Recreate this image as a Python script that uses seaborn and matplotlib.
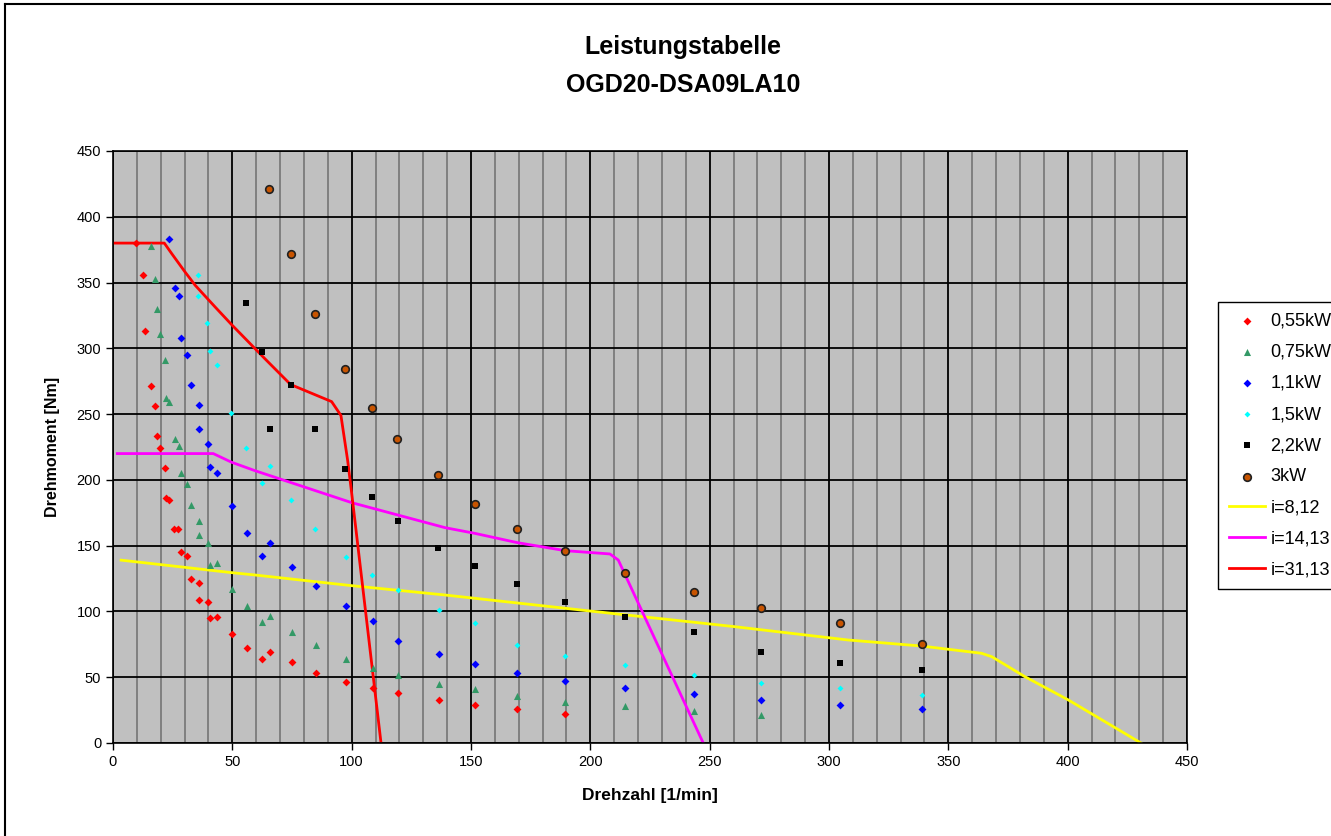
import matplotlib
matplotlib.use("Agg")
import matplotlib.pyplot as plt
import seaborn as sns
from matplotlib.lines import Line2D
from matplotlib.ticker import MultipleLocator

# --- data ---
x_055 = [9.5, 12.4, 13.4, 15.9, 17.5, 18.6, 19.7, 21.9, 22.3, 23.6, 25.7, 27.4, 28.6, 30.9, 32.5, 35.9, 35.9,
         39.8, 40.8, 43.7, 49.7, 56.0, 62.6, 65.9, 75.0, 84.9, 97.6, 108.8, 119.4, 136.7, 151.5, 169.4, 189.5]
y_055 = [380, 356, 313, 271, 256, 233, 224, 209, 186, 185, 163, 163, 145, 142, 125, 122, 109,
         107, 95, 96, 83, 72.5, 63.5, 69, 61.5, 53, 46, 42, 38, 33, 29, 26, 22]

x_075 = [15.8, 17.5, 18.6, 19.8, 21.9, 22.3, 23.6, 25.8, 27.5, 28.6, 30.9, 32.5, 35.9, 35.9, 39.8, 40.8, 43.7,
         49.7, 56.0, 62.6, 65.9, 75.0, 84.9, 97.6, 108.8, 119.4, 136.7, 151.5, 169.4, 189.5, 214.5, 243.4, 271.4]
y_075 = [378, 353, 330, 311, 291, 262, 259, 231, 226, 205, 197, 181, 169, 158, 152, 135, 137,
         117, 104, 92, 96.5, 84.5, 74.5, 64, 57, 51.5, 44.5, 41, 36, 31.5, 28, 24, 21]

x_11 = [23.6, 25.8, 27.5, 28.6, 30.9, 32.5, 35.9, 35.9, 39.8, 40.8, 43.7, 49.7, 56.0, 62.6, 65.9, 75.0, 84.9,
        97.6, 108.8, 119.4, 136.7, 151.5, 169.4, 189.5, 214.5, 243.4, 271.4, 304.7, 338.8]
y_11 = [383, 346, 340, 308, 295, 272, 257, 239, 227, 210, 205, 180, 160, 142, 152, 134, 119,
        104, 92.5, 77.5, 67.5, 60, 53, 47, 42, 37, 33, 29, 25.5]

x_15 = [35.6, 35.6, 39.5, 40.6, 43.4, 49.6, 55.7, 62.4, 65.8, 74.7, 84.6, 97.5, 108.6, 119.3, 136.5,
        151.5, 169.4, 189.5, 214.5, 243.4, 271.4, 304.7, 338.8]
y_15 = [355.5, 339.5, 319, 298, 287, 251, 224, 198, 210.5, 185, 163, 141.5, 127.5, 116.5, 101,
        91, 74.5, 66.5, 59, 51.5, 45.5, 41.5, 36.5]

x_22 = [55.9, 62.6, 65.8, 74.4, 84.5, 97.2, 108.6, 119.4, 136.3, 151.5, 169.4, 189.5, 214.5, 243.4,
        271.4, 304.7, 338.8]
y_22 = [334.5, 297.5, 239, 272, 239, 208, 187, 169, 148, 134.5, 120.5, 107.5, 95.5, 84.5, 69, 60.5, 55.5]

x_3 = [65.5, 74.4, 84.5, 97.3, 108.4, 119.1, 136.3, 151.5, 169.4, 189.5, 214.5, 243.4, 271.4, 304.7, 338.8]
y_3 = [421, 371.5, 326, 284.5, 255, 231, 203.5, 182, 163, 146, 129.5, 114.5, 102.5, 91.5, 75]

x_i812 = [3.4, 49.7, 59.5, 100, 139.1, 200, 260.6, 308, 338.8, 363.9, 368.2, 382.1, 400.3, 430.7]
y_i812 = [139, 129.5, 127.7, 119.6, 112.5, 100.3, 88.4, 78.3, 73.7, 68.2, 65.6, 50.4, 32.7, 0]

x_i1413 = [1.8, 42, 49.7, 59.5, 100, 139.1, 151.5, 169.4, 189.5, 208.2, 211.7, 247.3]
y_i1413 = [220, 220, 213.4, 207, 182.7, 163.7, 159.4, 152.3, 146.2, 143.7, 139.1, 0]

x_i3113 = [0.5, 21.5, 24.6, 30.2, 34.4, 42.7, 49.7, 63.7, 74.4, 91.6, 95.5, 98.3, 100, 112.3]
y_i3113 = [380, 380, 372, 358, 348, 331.6, 318, 292, 272.5, 259.5, 249, 215, 190, 0]

# --- figure ---
fig = plt.figure(figsize=(13.31, 8.36), dpi=100)
plt.rcParams['font.family'] = ['Liberation Sans', 'DejaVu Sans']
ax = fig.add_axes([113 / 1331, 1 - 743 / 836, (1187 - 113) / 1331, (743 - 151) / 836])
ax.set_facecolor('#C0C0C0')

# scatter series (power classes)
sns.scatterplot(x=x_055, y=y_055, ax=ax, marker='D', s=16, color='#FF0000', linewidth=0, label='0,55kW', zorder=3)
sns.scatterplot(x=x_075, y=y_075, ax=ax, marker='^', s=26, color='#339966', linewidth=0, label='0,75kW', zorder=3)
sns.scatterplot(x=x_11, y=y_11, ax=ax, marker='D', s=16, color='#0000FF', linewidth=0, label='1,1kW', zorder=3)
sns.scatterplot(x=x_15, y=y_15, ax=ax, marker='D', s=9, color='#00FFFF', linewidth=0, label='1,5kW', zorder=3)
sns.scatterplot(x=x_22, y=y_22, ax=ax, marker='s', s=18, color='#000000', linewidth=0, label='2,2kW', zorder=3)
sns.scatterplot(x=x_3, y=y_3, ax=ax, marker='o', s=30, color='#C85400', edgecolor='#202020', linewidth=1.2,
                label='3kW', zorder=3)

# gear ratio limit curves
sns.lineplot(x=x_i812, y=y_i812, ax=ax, sort=False, estimator=None, color='#FFFF00', lw=2, label='i=8,12', zorder=2)
sns.lineplot(x=x_i1413, y=y_i1413, ax=ax, sort=False, estimator=None, color='#FF00FF', lw=2, label='i=14,13', zorder=2)
sns.lineplot(x=x_i3113, y=y_i3113, ax=ax, sort=False, estimator=None, color='#FF0000', lw=2, label='i=31,13', zorder=2)

ax.set_xlim(0, 450)
ax.set_ylim(0, 450)
ax.xaxis.set_major_locator(MultipleLocator(50))
ax.xaxis.set_minor_locator(MultipleLocator(10))
ax.yaxis.set_major_locator(MultipleLocator(50))
ax.set_axisbelow(True)
ax.grid(which='minor', axis='x', color='#808080', lw=1.4)
ax.grid(which='major', axis='both', color='#000000', lw=1.3)
ax.tick_params(which='major', direction='out', length=5, width=1, colors='black', labelsize=10.5)
ax.tick_params(which='minor', length=0)
for sp in ax.spines.values():
    sp.set_color('black')
    sp.set_linewidth(1.2)

ax.set_xlabel('Drehzahl [1/min]', fontsize=12.5, fontweight='bold', labelpad=14)
ax.set_ylabel('Drehmoment [Nm]', fontsize=11.5, fontweight='bold', labelpad=12)

fig.text(683 / 1331, 1 - 47 / 836, 'Leistungstabelle', ha='center', va='center', fontsize=18, fontweight='bold')
fig.text(683 / 1331, 1 - 85 / 836, 'OGD20-DSA09LA10', ha='center', va='center', fontsize=18, fontweight='bold')

ax.get_legend().remove()
handles, labels = ax.get_legend_handles_labels()
leg = fig.legend(handles, labels, loc='upper left', bbox_to_anchor=(1218 / 1331, 1 - 302 / 836),
                 borderaxespad=0, fontsize=13, frameon=True, fancybox=False, edgecolor='black', framealpha=1,
                 handlelength=2.0, handletextpad=0.3, labelspacing=0.78, borderpad=0.6, markerscale=1.0)
leg.get_frame().set_linewidth(1.0)

# outer chart frame (top and left edges visible)
fig.add_artist(Line2D([5 / 1331, 1], [1 - 4 / 836, 1 - 4 / 836], transform=fig.transFigure, color='black', lw=1.5))
fig.add_artist(Line2D([5 / 1331, 5 / 1331], [0, 1 - 4 / 836], transform=fig.transFigure, color='black', lw=1.5))

fig.savefig('out.png', dpi=100)
